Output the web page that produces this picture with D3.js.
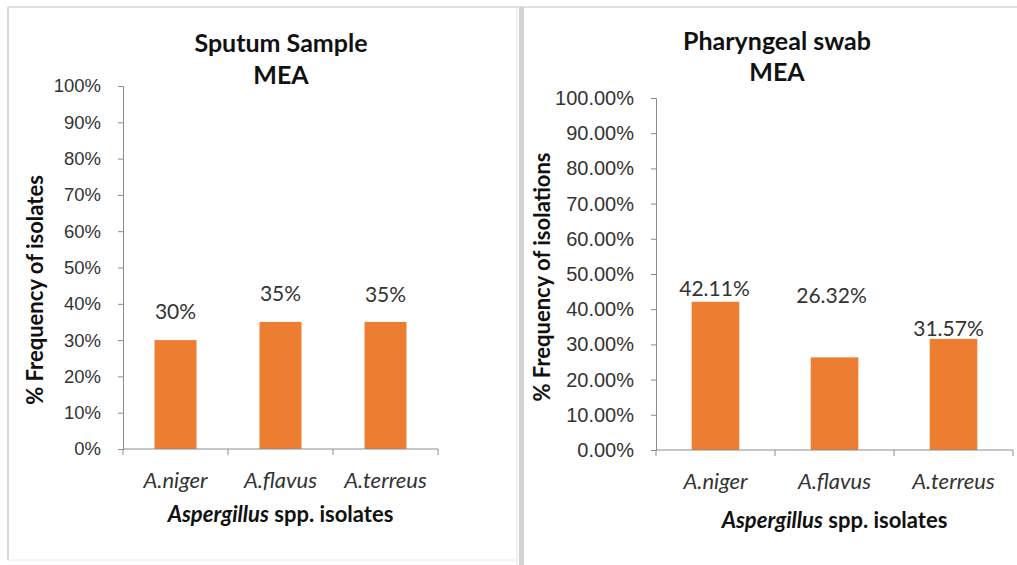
<!DOCTYPE html>
<html>
<head>
<meta charset="utf-8">
<script src="https://cdn.jsdelivr.net/npm/d3@7"></script>
<style>
  body { margin: 0; background: #fff; }
  svg { display: block; font-family: Lato, 'Open Sans', sans-serif; }
</style>
</head>
<body>
<script>
// data
let species = ['A.niger', 'A.flavus', 'A.terreus']
let sputumValues = [30, 35, 35]
let swabValues = [42.11, 26.32, 31.57]
let sputumLabels = ['30%', '35%', '35%']
let swabLabels = ['42.11%', '26.32%', '31.57%']
let yTicks = [0, 10, 20, 30, 40, 50, 60, 70, 80, 90, 100]

let width = 1017
let height = 565
let orange = '#ed7d31'

let svg = d3.select('body').append('svg')
  .attr('width', width)
  .attr('height', height)

svg.append('rect').attr('width', width).attr('height', height).attr('fill', '#fff')

// panel frames
svg.append('line').attr('x1', 8).attr('x2', width).attr('y1', 7).attr('y2', 7)
  .attr('stroke', '#d6d6d6').attr('stroke-width', 1.5)
svg.append('line').attr('x1', 8).attr('x2', 8).attr('y1', 7).attr('y2', 560)
  .attr('stroke', '#cfcfcf').attr('stroke-width', 1.5)
svg.append('line').attr('x1', 8).attr('x2', 517).attr('y1', 560).attr('y2', 560)
  .attr('stroke', '#ececec').attr('stroke-width', 1)
svg.append('line').attr('x1', 517).attr('x2', 517).attr('y1', 7).attr('y2', height)
  .attr('stroke', '#e2e2e2').attr('stroke-width', 1)
svg.append('rect').attr('x', 519).attr('y', 7).attr('width', 5).attr('height', height)
  .attr('fill', '#d2d2d2')

let charts = [
  {
    title: ['Sputum Sample', 'MEA'], titleX: 281, titleY: [43, 75],
    values: sputumValues, labels: sputumLabels, format: d => d + '%', tickSize: '18.5px',
    left: 123, right: 438, top: 86, bottom: 449,
    yTitle: '% Frequency of isolates', yTitleX: 35, yTitleY: 290,
    xTitleY: 514, lift: [20, 20, 19], shift: [0, 0, 0]
  },
  {
    title: ['Pharyngeal swab', 'MEA'], titleX: 777, titleY: [41, 72],
    values: swabValues, labels: swabLabels, format: d => d.toFixed(2) + '%', tickSize: '20px',
    left: 656, right: 1013, top: 98, bottom: 450,
    yTitle: '% Frequency of isolations', yTitleX: 542, yTitleY: 277,
    xTitleY: 520, lift: [5, 53, 2], shift: [-1, -3, -5]
  }
]

charts.forEach(function (c) {
  let g = svg.append('g')

  let x = d3.scaleBand()
    .domain(species)
    .range([c.left, c.right])
    .paddingInner(0.6)
    .paddingOuter(0.3)

  let y = d3.scaleLinear()
    .domain([0, 100])
    .range([c.bottom, c.top])

  // y axis
  let yAxis = g.append('g')
    .attr('transform', 'translate(' + c.left + ',0)')
    .call(d3.axisLeft(y).tickValues(yTicks).tickFormat(c.format).tickSize(5).tickPadding(17))
  yAxis.select('.domain').attr('stroke', '#8c8c8c')
  yAxis.selectAll('.tick line').attr('stroke', '#8c8c8c')
  yAxis.selectAll('.tick text')
    .attr('fill', '#333')
    .style('font-size', c.tickSize)

  // bars
  g.selectAll('.bar')
    .data(c.values)
    .enter().append('rect')
    .attr('class', 'bar')
    .attr('x', (d, i) => x(species[i]))
    .attr('width', x.bandwidth())
    .attr('y', d => y(d))
    .attr('height', d => y(0) - y(d))
    .attr('fill', orange)

  // x axis with ticks between categories
  let step = x.step()
  g.append('line')
    .attr('x1', c.left).attr('x2', c.right)
    .attr('y1', y(0)).attr('y2', y(0))
    .attr('stroke', '#8c8c8c')
  g.selectAll('.xtick')
    .data(d3.range(species.length + 1))
    .enter().append('line')
    .attr('class', 'xtick')
    .attr('x1', i => c.left + i * step).attr('x2', i => c.left + i * step)
    .attr('y1', y(0)).attr('y2', y(0) + 6)
    .attr('stroke', '#8c8c8c')

  g.selectAll('.xlabel')
    .data(species)
    .enter().append('text')
    .attr('class', 'xlabel')
    .attr('x', d => x(d) + x.bandwidth() / 2)
    .attr('y', y(0) + 31)
    .attr('dy', '0.35em')
    .attr('text-anchor', 'middle')
    .attr('fill', '#333')
    .style('font-size', '22px')
    .style('font-style', 'italic')
    .text(d => d)

  // value labels
  g.selectAll('.vlabel')
    .data(c.values)
    .enter().append('text')
    .attr('class', 'vlabel')
    .attr('x', (d, i) => x(species[i]) + x.bandwidth() / 2 + c.shift[i])
    .attr('y', (d, i) => y(d) - c.lift[i] - 1)
    .attr('text-anchor', 'middle')
    .attr('fill', '#333')
    .style('font-size', '21px')
    .text((d, i) => c.labels[i])

  // titles
  g.selectAll('.title')
    .data(c.title)
    .enter().append('text')
    .attr('class', 'title')
    .attr('x', c.titleX)
    .attr('y', (d, i) => c.titleY[i])
    .attr('dy', '0.35em')
    .attr('text-anchor', 'middle')
    .attr('fill', '#111')
    .style('font-size', '25px')
    .style('font-weight', 'bold')
    .text(d => d)

  g.append('text')
    .attr('transform', 'translate(' + c.yTitleX + ',' + c.yTitleY + ') rotate(-90)')
    .attr('dy', '0.35em')
    .attr('text-anchor', 'middle')
    .attr('fill', '#111')
    .style('font-size', '22px')
    .style('font-weight', 'bold')
    .text(c.yTitle)

  let xt = g.append('text')
    .attr('x', (c.left + c.right) / 2)
    .attr('y', c.xTitleY)
    .attr('dy', '0.35em')
    .attr('text-anchor', 'middle')
    .attr('fill', '#111')
    .style('font-size', '22px')
    .style('font-weight', 'bold')
  xt.append('tspan').style('font-style', 'italic').text('Aspergillus')
  xt.append('tspan').text(' spp. isolates')
})
</script>
</body>
</html>
